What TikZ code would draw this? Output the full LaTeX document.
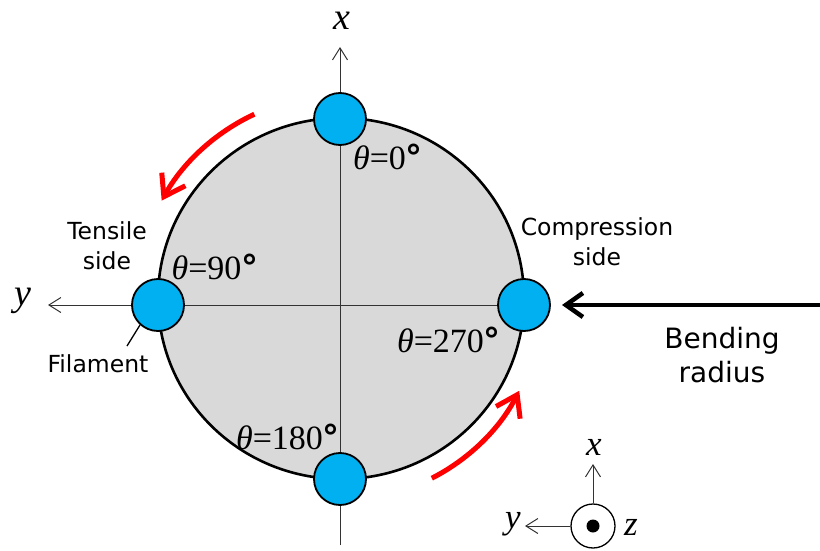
\documentclass[tikz,border=0pt]{standalone}
\usepackage{fontspec}
\setmainfont{Liberation Serif}
\newfontfamily\sidefont{DejaVu Sans}
\newfontfamily\degfont{DejaVu Sans}
\usetikzlibrary{arrows.meta}
\definecolor{sectionbg}{RGB}{217, 217, 217}
\definecolor{filamentbg}{RGB}{0, 176, 240}
\definecolor{turnred}{RGB}{255, 0, 0}

\begin{document}
\begin{tikzpicture}[x=1pt, y=-1pt,
  filament/.style={draw, circle, line width=1.8pt, fill=filamentbg, minimum size=52pt, inner sep=0pt},
  axislabel/.style={font=\fontsize{38}{38}\selectfont\itshape, inner sep=0pt},
  framelabel/.style={font=\fontsize{35}{35}\selectfont\itshape, inner sep=0pt},
  anglelabel/.style={font=\fontsize{34}{34}\selectfont, inner sep=0pt},
  sidelabel/.style={font=\sidefont\fontsize{23.5}{30}\selectfont, align=center, inner sep=0pt},
  axisarrow/.style={-{Straight Barb[length=12pt, width=15pt]}, line width=1pt, black!80},
  turnarrow/.style={-{Straight Barb[length=20pt, width=27pt]}, line width=5pt, turnred}]
  \useasboundingbox (0,0) rectangle (820,551);

  % cross section
  \filldraw[fill=sectionbg, line width=2.6pt] (341,298.5) ellipse [x radius=183, y radius=180.5];
  \coordinate (centre) at (341,300);

  % axes
  \coordinate (xtip) at (340,47);
  \coordinate (xend) at (340,545);
  \coordinate (ytip) at (48,305);
  \draw[axisarrow] (xend) -- (xtip);
  \draw[axisarrow] (524,305) -- (ytip);
  \node[axislabel] (xlab) at (342,21) {x};
  \node[axislabel] (ylab) at (23,301) {y};

  % filaments
  \node[filament] (f0) at (340,119) {};
  \node[filament] (f90) at (158,305) {};
  \node[filament] (f180) at (340,479) {};
  \node[filament] (f270) at (524,305) {};

  \node[anglelabel] (a0) at (388,157) {{\itshape θ}=0{\degfont\bfseries °}};
  \node[anglelabel] (a90) at (215,267) {{\itshape θ}=90{\degfont\bfseries °}};
  \node[anglelabel] (a180) at (288,437) {{\itshape θ}=180{\degfont\bfseries °}};
  \node[anglelabel] (a270) at (449,340) {{\itshape θ}=270{\degfont\bfseries °}};

  % side labels
  \node[sidelabel] (tensile) at (107,246) {Tensile\\side};
  \node[sidelabel] (compress) at (597,242) {Compression\\side};
  \node[sidelabel] (filtext) at (98,364) {Filament};
  \coordinate (filtip) at (127,346);
  \draw[line width=1.3pt] (f90.228) -- (filtip);

  % bending radius
  \coordinate (bendstart) at (820,305);
  \coordinate (bendtip) at (562,305);
  \draw[-{Straight Barb[length=17pt, width=24pt]}, line width=4.5pt] (bendstart) -- (bendtip);
  \node[sidelabel, font=\sidefont\fontsize{28}{34}\selectfont] (bendtext) at (722,355) {Bending\\radius};

  % rotation arrows
  \coordinate (turnA) at ([shift={(-115:205)}]centre);
  \coordinate (turnB) at ([shift={(63:200)}]centre);
  \draw[turnarrow] (turnA) arc[start angle=-115, end angle=-151, radius=205];
  \draw[turnarrow] (turnB) arc[start angle=63, end angle=27, radius=200];

  % small frame
  \node[draw, circle, line width=1.3pt, minimum size=44pt, inner sep=0pt] (zaxis) at (593,526) {};
  \node[circle, fill, minimum size=13pt, inner sep=0pt] (zdot) at (zaxis) {};
  \coordinate (cxtip) at (593,464);
  \coordinate (cytip) at (525,526);
  \draw[axisarrow] (zaxis.north) -- (cxtip);
  \draw[axisarrow] (zaxis.west) -- (cytip);
  \node[framelabel] (cxlab) at (594,447) {x};
  \node[framelabel] (cylab) at (513,524) {y};
  \node[framelabel] (czlab) at (631,527) {z};
\end{tikzpicture}
\end{document}
